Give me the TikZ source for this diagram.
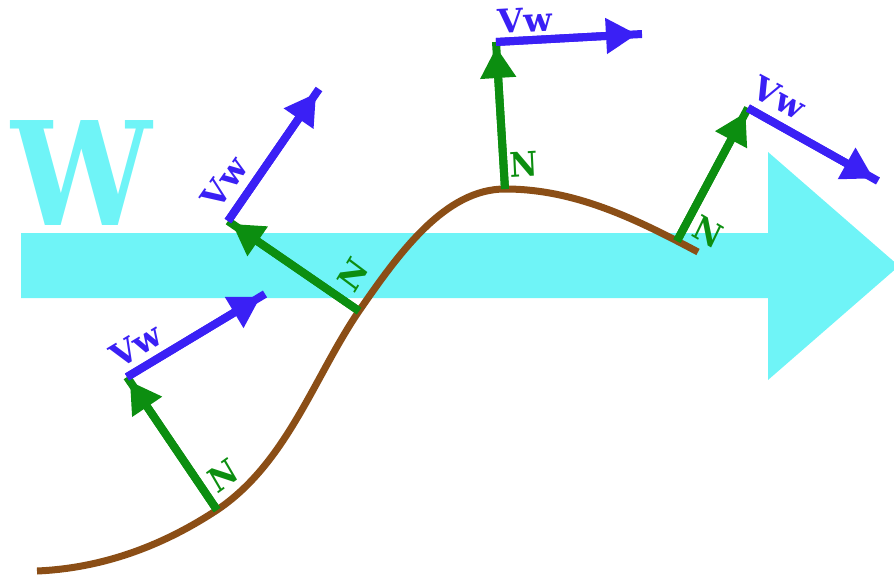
\documentclass[tikz,border=0pt]{standalone}
\usepackage{fontspec}
\setmainfont{DejaVu Serif}
\usetikzlibrary{arrows.meta}
\definecolor{cy}{RGB}{111,244,247}
\definecolor{bl}{RGB}{58,32,245}
\definecolor{gr}{RGB}{12,142,16}
\definecolor{br}{RGB}{139,78,22}
\tikzset{
  curveline/.style={draw=br, line width=7pt},
  nline/.style={draw=gr, line width=8pt},
  ntip/.style={draw=gr, fill=gr, line width=8pt, -{Triangle[length=31pt,width=34pt]}, shorten >=5pt},
  vline/.style={draw=bl, line width=8pt},
  vtip/.style={draw=bl, fill=bl, line width=8pt, -{Triangle[length=31pt,width=34pt]}, shorten >=5pt},
  nlab/.style={text=gr, inner sep=0pt, xscale=0.9, font=\fontsize{34}{34}\selectfont\bfseries},
  vlab/.style={text=bl, inner sep=0pt, font=\fontsize{33}{33}\selectfont\bfseries},
}
\begin{document}
\begin{tikzpicture}[x=1pt, y=-1pt]
\useasboundingbox (0,0) rectangle (894,575);
% big wind arrow
\fill[cy] (21,233) -- (768,233) -- (768,152) -- (899,266) -- (768,380) -- (768,298) -- (21,298) -- cycle;
\node[text=cy, inner sep=0pt, anchor=base, xscale=0.87, font=\fontsize{144}{144}\selectfont\bfseries] (W) at (82,225) {W};
% profile curve
\coordinate (c0) at (37,571);
\coordinate (b1) at (217,510);
\coordinate (b2) at (359,311);
\coordinate (b3) at (505,189);
\coordinate (c4) at (698,252);
\draw[curveline] (c0) .. controls (107,568) and (167,543) .. (b1)
  .. controls (287,463) and (314,377) .. (b2)
  .. controls (399,253) and (445,189) .. (b3)
  .. controls (575,189) and (636,219) .. (c4);
% points
\coordinate (t1) at (127,377);
\coordinate (v1) at (265,294);
\coordinate (t2) at (228,221);
\coordinate (v2) at (319,89);
\coordinate (t3) at (496,42);
\coordinate (v3) at (642,34);
\coordinate (b4) at (677,241);
\coordinate (t4) at (748,108);
\coordinate (v4) at (878,181);
% normals
\foreach \i in {1,2,3,4}{
  \draw[nline] (b\i) -- (t\i);
  \draw[ntip] (b\i) -- (t\i);
}
% velocities
\foreach \i in {1,2,3,4}{
  \draw[vline] (t\i) -- (v\i);
  \draw[vtip] (t\i) -- (v\i);
}
% labels
\node[nlab, rotate=33] (n1) at (223,476) {N};
\node[nlab, rotate=56] (n2) at (353,275) {N};
\node[nlab, rotate=3] (n3) at (524,164) {N};
\node[nlab, rotate=-28] (n4) at (708,232) {N};
\node[vlab, rotate=31] (w1) at (136,345) {Vw};
\node[vlab, rotate=55] (w2) at (224,182) {Vw};
\node[vlab, rotate=3] (w3) at (525,20) {Vw};
\node[vlab, rotate=-28] (w4) at (779,98) {Vw};
\end{tikzpicture}
\end{document}
